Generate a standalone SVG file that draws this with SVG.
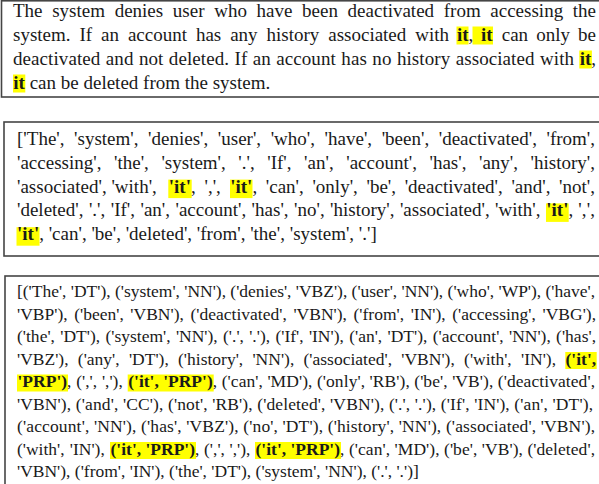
<svg xmlns="http://www.w3.org/2000/svg" width="599" height="484" viewBox="0 0 599 484">
<style>
.t{font-family:"Liberation Serif","Times New Roman",serif;fill:#1a1a1a}
.a{font-size:19px}
.c{font-size:17.5px}
.b{font-weight:bold}
.hl{fill:#ffff00}
.box{fill:#fff;stroke:#454545;stroke-width:1.6}
</style>
<rect width="599" height="484" fill="#fff"/>
<g id="box-sentence">
<rect class="box" x="1.5" y="0.8" width="600" height="96.2"/>
<rect class="hl" x="456.5" y="26.5" width="12" height="18"/>
<rect class="hl" x="472.5" y="26.5" width="20.5" height="18"/>
<rect class="hl" x="579.3" y="50.5" width="12.6" height="18"/>
<rect class="hl" x="13" y="74.5" width="12.3" height="18"/>
<text class="t a" x="13" y="17" textLength="583" lengthAdjust="spacing" style="word-spacing:4.9px">The system denies user who have been deactivated from accessing the</text>
<text class="t a" x="13" y="41" textLength="436" lengthAdjust="spacing" style="word-spacing:4.2px">system. If an account has any history associated with</text>
<text class="t a b" x="457" y="41">it</text>
<text class="t a" x="468.6" y="41">,</text>
<text class="t a b" x="481" y="41">it</text>
<text class="t a" x="501.7" y="41" textLength="94.3" lengthAdjust="spacing" style="word-spacing:3.3px">can only be</text>
<text class="t a" x="13" y="65" textLength="561" lengthAdjust="spacing" style="word-spacing:0.6px">deactivated and not deleted. If an account has no history associated with</text>
<text class="t a b" x="579.7" y="65">it</text>
<text class="t a" x="591.3" y="65">,</text>
<text class="t a" x="13.3" y="89"><tspan class="b">it</tspan> can be deleted from the system.</text>
</g>
<g id="box-tokens">
<rect class="box" x="4" y="122" width="600" height="134"/>
<rect class="hl" x="168.3" y="179.6" width="23.4" height="18.5"/>
<rect class="hl" x="230" y="179.6" width="22.5" height="18.5"/>
<rect class="hl" x="546" y="203.4" width="22.7" height="18.5"/>
<rect class="hl" x="16.5" y="227.2" width="23" height="18.5"/>
<text class="t a" x="17" y="145" textLength="578" lengthAdjust="spacing" style="word-spacing:4.8px">['The', 'system', 'denies', 'user', 'who', 'have', 'been', 'deactivated', 'from',</text>
<text class="t a" x="17" y="168.8" textLength="578" lengthAdjust="spacing" style="word-spacing:7.8px">'accessing', 'the', 'system', '.', 'If', 'an', 'account', 'has', 'any', 'history',</text>
<text class="t a" x="17" y="192.6">'associated', 'with',</text>
<text class="t a b" x="168.8" y="192.6">'it'</text>
<text class="t a" x="191.1" y="192.6" style="word-spacing:3.9px">, ',',</text>
<text class="t a b" x="230.2" y="192.6">'it'</text>
<text class="t a" x="252.4" y="192.6" textLength="342.6" lengthAdjust="spacing" style="word-spacing:3.9px">, 'can', 'only', 'be', 'deactivated', 'and', 'not',</text>
<text class="t a" x="17" y="216.4" textLength="523.5" lengthAdjust="spacing" style="word-spacing:0.7px">'deleted', '.', 'If', 'an', 'account', 'has', 'no', 'history', 'associated', 'with',</text>
<text class="t a b" x="546.3" y="216.4">'it'</text>
<text class="t a" x="568.5" y="216.4" textLength="26.5" lengthAdjust="spacing">, ',',</text>
<text class="t a" x="17" y="240.2"><tspan class="b">'it'</tspan>, 'can', 'be', 'deleted', 'from', 'the', 'system', '.']</text>
</g>
<g id="box-pos-tags">
<rect class="box" x="5" y="276" width="600" height="212"/>
<rect class="hl" x="565.3" y="352" width="31.4" height="17"/>
<rect class="hl" x="17" y="374.5" width="51" height="17"/>
<rect class="hl" x="127.7" y="374.5" width="86" height="17"/>
<rect class="hl" x="110" y="442" width="86" height="17"/>
<rect class="hl" x="255" y="442" width="86" height="17"/>
<text class="t c" x="17" y="297" textLength="578" lengthAdjust="spacing">[('The', 'DT'), ('system', 'NN'), ('denies', 'VBZ'), ('user', 'NN'), ('who', 'WP'), ('have',</text>
<text class="t c" x="17" y="319.5" textLength="579" lengthAdjust="spacing" style="word-spacing:2.2px">'VBP'), ('been', 'VBN'), ('deactivated', 'VBN'), ('from', 'IN'), ('accessing', 'VBG'),</text>
<text class="t c" x="17" y="342" textLength="579" lengthAdjust="spacing" style="word-spacing:0.9px">('the', 'DT'), ('system', 'NN'), ('.', '.'), ('If', 'IN'), ('an', 'DT'), ('account', 'NN'), ('has',</text>
<text class="t c" x="17" y="364.5" textLength="539" lengthAdjust="spacing" style="word-spacing:4.9px">'VBZ'), ('any', 'DT'), ('history', 'NN'), ('associated', 'VBN'), ('with', 'IN'),</text>
<text class="t c b" x="565.5" y="364.5">('it',</text>
<text class="t c b" x="17.5" y="387">'PRP')</text>
<text class="t c" x="67.1" y="387" style="word-spacing:0.4px">, (',', ','),</text>
<text class="t c b" x="128.2" y="387">('it', 'PRP')</text>
<text class="t c" x="212.8" y="387" textLength="382.2" lengthAdjust="spacing">, ('can', 'MD'), ('only', 'RB'), ('be', 'VB'), ('deactivated',</text>
<text class="t c" x="17" y="409.5" textLength="576" lengthAdjust="spacing">'VBN'), ('and', 'CC'), ('not', 'RB'), ('deleted', 'VBN'), ('.', '.'), ('If', 'IN'), ('an', 'DT'),</text>
<text class="t c" x="17" y="432" textLength="578" lengthAdjust="spacing">('account', 'NN'), ('has', 'VBZ'), ('no', 'DT'), ('history', 'NN'), ('associated', 'VBN'),</text>
<text class="t c" x="17" y="454.5" style="word-spacing:0.8px">('with', 'IN'),</text>
<text class="t c b" x="110.5" y="454.5">('it', 'PRP')</text>
<text class="t c" x="195.1" y="454.5" style="word-spacing:0.2px">, (',', ','),</text>
<text class="t c b" x="255.5" y="454.5">('it', 'PRP')</text>
<text class="t c" x="340.1" y="454.5" textLength="254.9" lengthAdjust="spacing">, ('can', 'MD'), ('be', 'VB'), ('deleted',</text>
<text class="t c" x="17" y="477">'VBN'), ('from', 'IN'), ('the', 'DT'), ('system', 'NN'), ('.', '.')]</text>
</g>
</svg>
